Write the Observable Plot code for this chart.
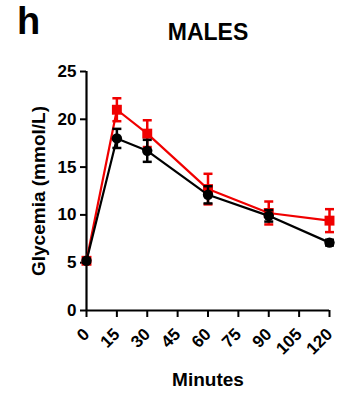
<!DOCTYPE html>
<html><head><meta charset="utf-8">
<script src="https://cdn.jsdelivr.net/npm/d3@7"></script>
<script src="https://cdn.jsdelivr.net/npm/@observablehq/plot@0.6"></script>
<style>
body{margin:0;background:#fff}
svg{font-family:"Liberation Sans",Arial,sans-serif}
</style>
</head><body><div id="chart"></div>
<script>
const minutes = [0, 15, 30, 60, 90, 120];
const blackMean = [5.2, 18.0, 16.7, 12.1, 9.9, 7.1];
const blackSem = [0.2, 1.0, 1.15, 0.9, 0.6, 0.3];
const redMean = [5.2, 21.0, 18.5, 12.7, 10.2, 9.4];
const redSem = [0.2, 1.2, 1.4, 1.6, 1.2, 1.2];
const xTicks = [0, 15, 30, 45, 60, 75, 90, 105, 120];
const yTicks = [0, 5, 10, 15, 20, 25];
const title = "MALES";
const panel = "h";
const yLabel = "Glycemia (mmol/L)";
const xLabel = "Minutes";

const black = minutes.map((t, i) => ({t, mean: blackMean[i], sem: blackSem[i]}));
const red = minutes.map((t, i) => ({t, mean: redMean[i], sem: redSem[i]}));

const cap = {draw(ctx, size) { const r = Math.sqrt(size / Math.PI); ctx.moveTo(-r, 0); ctx.lineTo(r, 0); }};

function series(data, color, symbol, r) {
  return [
    Plot.ruleX(data, {x: "t", y1: d => d.mean - d.sem, y2: d => d.mean + d.sem, stroke: color, strokeWidth: 2.5}),
    Plot.dot(data, {x: "t", y: d => d.mean + d.sem, symbol: cap, r: 4.5, stroke: color, strokeWidth: 2.5}),
    Plot.dot(data, {x: "t", y: d => d.mean - d.sem, symbol: cap, r: 4.5, stroke: color, strokeWidth: 2.5}),
    Plot.line(data, {x: "t", y: "mean", stroke: color, strokeWidth: 2.2}),
    Plot.dot(data, {x: "t", y: "mean", symbol, r, fill: color, stroke: "none"})
  ];
}

const txt = {textAnchor: "middle", lineAnchor: "middle", fontWeight: "bold", fill: "#000"};

const chart = Plot.plot({
  width: 346, height: 393,
  marginLeft: 86, marginRight: 17, marginTop: 71, marginBottom: 83,
  style: {fontFamily: "'Liberation Sans', Arial, sans-serif", background: "#fff", color: "#000"},
  x: {domain: [0, 120]},
  y: {domain: [0, 25]},
  marks: [
    Plot.axisY({ticks: yTicks, tickSize: 6, tickPadding: 4, fontSize: 17, fontWeight: "bold", strokeWidth: 2, label: null}),
    Plot.axisX({ticks: xTicks, tickSize: 7, tickPadding: 14, tickRotate: -45, fontSize: 17, fontWeight: "bold", strokeWidth: 2, label: null}),
    Plot.ruleX([0], {strokeWidth: 2.2}),
    Plot.ruleY([0], {strokeWidth: 2.2}),
    ...series(red, "#f00000", "square", 5.6),
    ...series(black, "#000", "circle", 5.2),
    Plot.text([title], {...txt, frameAnchor: "top", dy: -39, fontSize: 23}),
    Plot.text([panel], {...txt, frameAnchor: "top-left", dx: -58, dy: -50, fontSize: 38}),
    Plot.text([yLabel], {...txt, frameAnchor: "left", dx: -48, dy: 0, rotate: -90, fontSize: 19}),
    Plot.text([xLabel], {...txt, frameAnchor: "bottom", dy: 69, fontSize: 19})
  ]
});
document.getElementById("chart").append(chart);
</script>
</body></html>
